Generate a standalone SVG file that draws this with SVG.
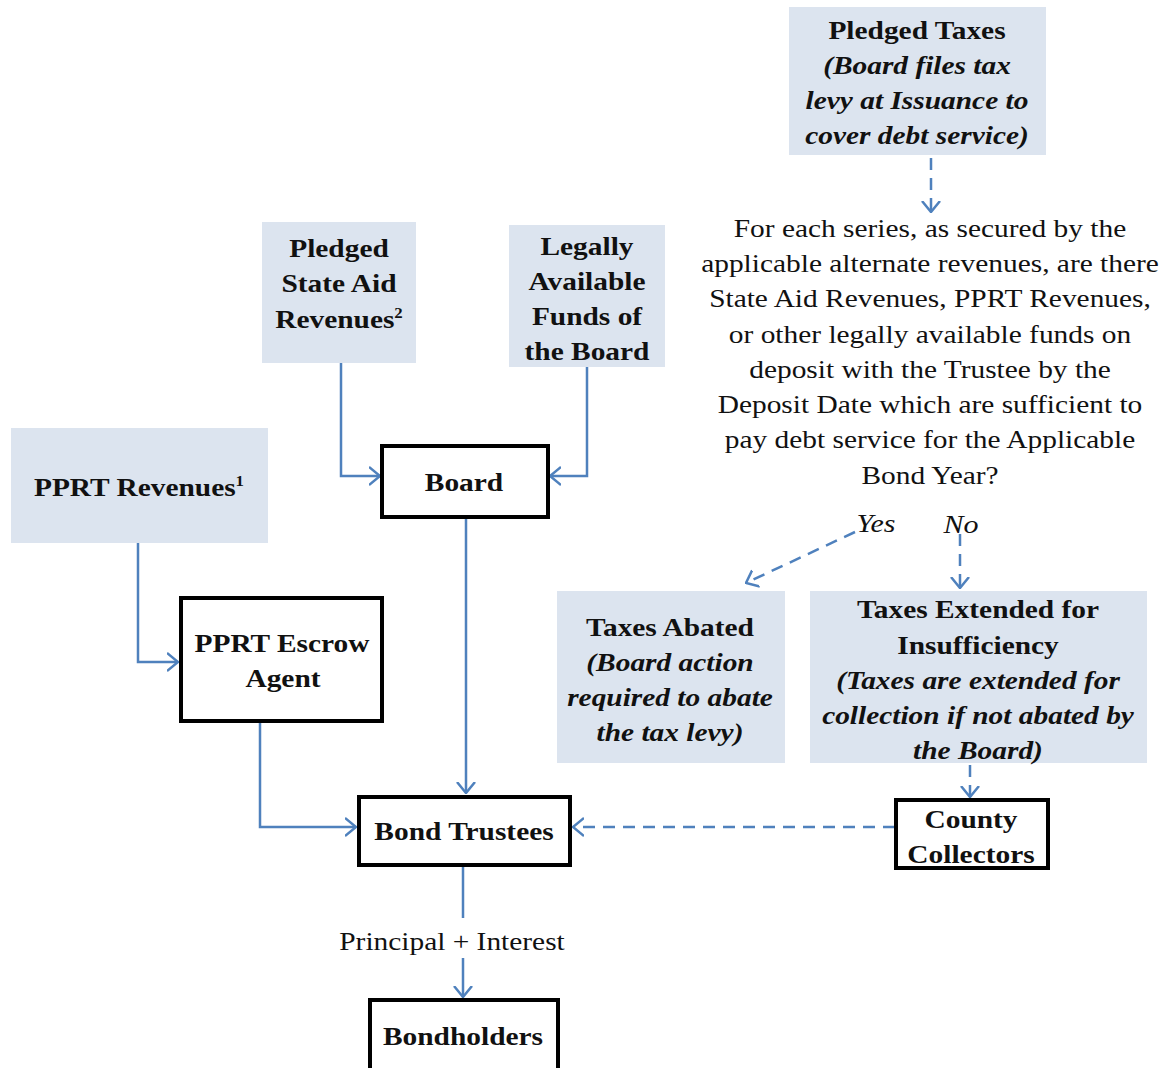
<svg xmlns="http://www.w3.org/2000/svg" width="1160" height="1068" viewBox="0 0 1160 1068">
<style>
.fill{fill:#dce4ef;stroke:none}
.box{fill:#fff;stroke:#000;stroke-width:4}
text{font-family:"Liberation Serif","Times New Roman",serif;font-size:24.5px;fill:#111;text-anchor:middle}
.b{font-weight:bold}
.bi{font-weight:bold;font-style:italic}
.i{font-style:italic;font-size:25px}
.sup{font-size:14px}
.ln{fill:none;stroke:#4f81bd;stroke-width:2.5}
.dash{stroke-dasharray:12,8}
</style>
<defs>
<marker id="ah" viewBox="0 0 12 20" refX="11" refY="10" markerWidth="12" markerHeight="20" markerUnits="userSpaceOnUse" orient="auto">
<path d="M0,1 L11,10 L0,19" fill="none" stroke="#4f81bd" stroke-width="2.5"/>
</marker>
</defs>
<rect width="1160" height="1068" fill="#fff"/>

<g id="connectors">
<path class="ln" d="M341,363 V476 H380" marker-end="url(#ah)"/>
<path class="ln" d="M587,367 V476 H550" marker-end="url(#ah)"/>
<path class="ln" d="M466,517 V793" marker-end="url(#ah)"/>
<path class="ln" d="M138,543 V662 H178" marker-end="url(#ah)"/>
<path class="ln" d="M260,722 V827 H356" marker-end="url(#ah)"/>
<path class="ln" d="M463,865 V918"/>
<path class="ln" d="M463,958 V997" marker-end="url(#ah)"/>
<path class="ln dash" d="M931,158 V212" marker-end="url(#ah)"/>
<path class="ln dash" d="M855,532 L746,583" marker-end="url(#ah)"/>
<path class="ln dash" d="M960,534 V588" marker-end="url(#ah)"/>
<path class="ln dash" d="M970,765 V797" marker-end="url(#ah)"/>
<path class="ln dash" d="M895,827 H573" marker-end="url(#ah)"/>
</g>

<g id="pledged-taxes">
<rect class="fill" x="789" y="7" width="257" height="148"/>
<text class="b" transform="translate(917 39) scale(1.2 1)">Pledged Taxes</text>
<text class="bi" transform="translate(917 74) scale(1.2 1)">(Board files tax</text>
<text class="bi" transform="translate(917 109) scale(1.2 1)">levy at Issuance to</text>
<text class="bi" transform="translate(917 144) scale(1.2 1)">cover debt service)</text>
</g>

<g id="question">
<text transform="translate(930 237) scale(1.2 1)">For each series, as secured by the</text>
<text transform="translate(930 272) scale(1.2 1)">applicable alternate revenues, are there</text>
<text transform="translate(930 307) scale(1.2 1)">State Aid Revenues, PPRT Revenues,</text>
<text transform="translate(930 343) scale(1.2 1)">or other legally available funds on</text>
<text transform="translate(930 378) scale(1.2 1)">deposit with the Trustee by the</text>
<text transform="translate(930 413) scale(1.2 1)">Deposit Date which are sufficient to</text>
<text transform="translate(930 448) scale(1.2 1)">pay debt service for the Applicable</text>
<text transform="translate(930 484) scale(1.2 1)">Bond Year?</text>
</g>

<g id="yes-label"><text class="i" transform="translate(876 532) scale(1.2 1)">Yes</text></g>
<g id="no-label"><text class="i" transform="translate(961 533) scale(1.2 1)">No</text></g>

<g id="state-aid">
<rect class="fill" x="262" y="222" width="154" height="141"/>
<text class="b" transform="translate(339 257) scale(1.2 1)">Pledged</text>
<text class="b" transform="translate(339 292) scale(1.2 1)">State Aid</text>
<text class="b" transform="translate(339 328) scale(1.2 1)">Revenues<tspan class="sup" dy="-10">2</tspan></text>
</g>

<g id="legally-available">
<rect class="fill" x="509" y="225" width="156" height="142"/>
<text class="b" transform="translate(587 255) scale(1.2 1)">Legally</text>
<text class="b" transform="translate(587 290) scale(1.2 1)">Available</text>
<text class="b" transform="translate(587 325) scale(1.2 1)">Funds of</text>
<text class="b" transform="translate(587 360) scale(1.2 1)">the Board</text>
</g>

<g id="pprt-revenues">
<rect class="fill" x="11" y="428" width="257" height="115"/>
<text class="b" transform="translate(139 496) scale(1.2 1)">PPRT Revenues<tspan class="sup" dy="-10">1</tspan></text>
</g>

<g id="board">
<rect class="box" x="382" y="446" width="166" height="71"/>
<text class="b" transform="translate(464 491) scale(1.2 1)">Board</text>
</g>

<g id="pprt-escrow">
<rect class="box" x="181" y="598" width="201" height="123"/>
<text class="b" transform="translate(282 652) scale(1.2 1)">PPRT Escrow</text>
<text class="b" transform="translate(283 687) scale(1.2 1)">Agent</text>
</g>

<g id="taxes-abated">
<rect class="fill" x="557" y="591" width="228" height="172"/>
<text class="b" transform="translate(670 636) scale(1.2 1)">Taxes Abated</text>
<text class="bi" transform="translate(670 671) scale(1.2 1)">(Board action</text>
<text class="bi" transform="translate(670 706) scale(1.2 1)">required to abate</text>
<text class="bi" transform="translate(670 741) scale(1.2 1)">the tax levy)</text>
</g>

<g id="taxes-extended">
<rect class="fill" x="810" y="591" width="337" height="172"/>
<text class="b" transform="translate(978 618) scale(1.2 1)">Taxes Extended for</text>
<text class="b" transform="translate(978 654) scale(1.2 1)">Insufficiency</text>
<text class="bi" transform="translate(978 689) scale(1.2 1)">(Taxes are extended for</text>
<text class="bi" transform="translate(978 724) scale(1.2 1)">collection if not abated by</text>
<text class="bi" transform="translate(978 759) scale(1.2 1)">the Board)</text>
</g>

<g id="bond-trustees">
<rect class="box" x="359" y="797" width="211" height="68"/>
<text class="b" transform="translate(464 840) scale(1.2 1)">Bond Trustees</text>
</g>

<g id="county-collectors">
<rect class="box" x="896" y="800" width="152" height="68"/>
<text class="b" transform="translate(971 828) scale(1.2 1)">County</text>
<text class="b" transform="translate(971 863) scale(1.2 1)">Collectors</text>
</g>

<g id="principal-label">
<text transform="translate(452 950) scale(1.2 1)">Principal + Interest</text>
</g>

<g id="bondholders">
<rect class="box" x="370" y="1000" width="188" height="80"/>
<text class="b" transform="translate(463 1045) scale(1.2 1)">Bondholders</text>
</g>
</svg>
